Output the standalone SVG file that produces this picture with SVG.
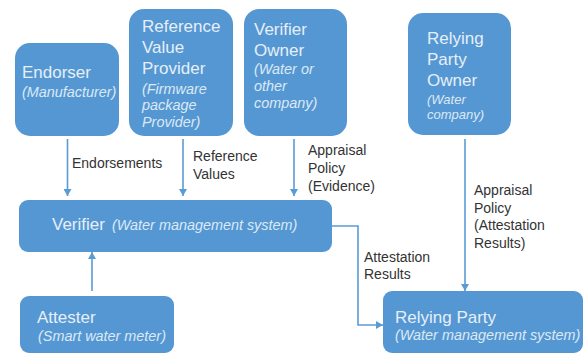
<svg xmlns="http://www.w3.org/2000/svg" width="583" height="353" viewBox="0 0 583 353">
<style>
text{font-family:"Liberation Sans",Arial,sans-serif}
.box{fill:#5597d3}
.t{fill:#e6eff8;font-size:17px}
.i{fill:#dce9f5;font-size:14.400px;font-style:italic}
.s{font-size:13px}
.l{fill:#333;font-size:14px}
.c{fill:none;stroke:#5b9bd5;stroke-width:1.6}
</style>
<defs><marker id="a" markerUnits="userSpaceOnUse" markerWidth="8" markerHeight="8" refX="7" refY="4" orient="auto"><path d="M0 0L7 4L0 8Z" fill="#5b9bd5"/></marker></defs>
<rect width="583" height="353" fill="#fff"/>
<g id="connectors">
<path class="c" marker-end="url(#a)" d="M67.500 139V196"/>
<path class="c" marker-end="url(#a)" d="M183 139V196"/>
<path class="c" marker-end="url(#a)" d="M294 139V196"/>
<path class="c" marker-end="url(#a)" d="M92 291V252"/>
<path class="c" marker-end="url(#a)" d="M332 226H358V325H383"/>
<path class="c" marker-end="url(#a)" d="M465 139V291"/>
</g>
<g id="endorser"><rect class="box" x="15" y="43" width="104" height="93" rx="15"/>
<text class="t" x="22" y="78">Endorser</text><text class="i" x="22" y="97">(Manufacturer)</text></g>
<g id="reference-value-provider"><rect class="box" x="129" y="9" width="104" height="127" rx="15"/>
<text class="t" x="142" y="32">Reference</text><text class="t" x="142" y="53">Value</text><text class="t" x="142" y="74">Provider</text>
<text class="i" x="142" y="94">(Firmware</text><text class="i" x="142" y="110">package</text><text class="i" x="142" y="127">Provider)</text></g>
<g id="verifier-owner"><rect class="box" x="244" y="9" width="103" height="127" rx="15"/>
<text class="t" x="254" y="35">Verifier</text><text class="t" x="254" y="56">Owner</text>
<text class="i" x="254" y="74">(Water or</text><text class="i" x="254" y="91">other</text><text class="i" x="254" y="108">company)</text></g>
<g id="relying-party-owner"><rect class="box" x="408" y="13" width="103" height="122" rx="15"/>
<text class="t" x="427" y="44">Relying</text><text class="t" x="427" y="65">Party</text><text class="t" x="427" y="86">Owner</text>
<text class="i s" x="427" y="104">(Water</text><text class="i s" x="427" y="119">company)</text></g>
<g id="verifier"><rect class="box" x="19" y="200" width="313" height="52" rx="9"/>
<text class="t" x="52" y="230">Verifier</text><text class="i" x="112" y="230">(Water management system)</text></g>
<g id="attester"><rect class="box" x="20" y="296" width="154" height="57" rx="9"/>
<text class="t" x="37" y="323">Attester</text><text class="i" x="38" y="341">(Smart water meter)</text></g>
<g id="relying-party"><rect class="box" x="383" y="291" width="200" height="62" rx="9"/>
<text class="t" x="395" y="323">Relying Party</text><text class="i" x="395" y="340">(Water management system)</text></g>
<g id="labels">
<text class="l" x="72" y="168">Endorsements</text>
<text class="l" x="193" y="161">Reference</text><text class="l" x="193" y="179">Values</text>
<text class="l" x="308" y="155">Appraisal</text><text class="l" x="308" y="173">Policy</text><text class="l" x="308" y="191">(Evidence)</text>
<text class="l" x="364" y="262">Attestation</text><text class="l" x="364" y="279">Results</text>
<text class="l" x="474" y="195">Appraisal</text><text class="l" x="474" y="213">Policy</text><text class="l" x="474" y="230">(Attestation</text><text class="l" x="474" y="248">Results)</text>
</g>
</svg>
